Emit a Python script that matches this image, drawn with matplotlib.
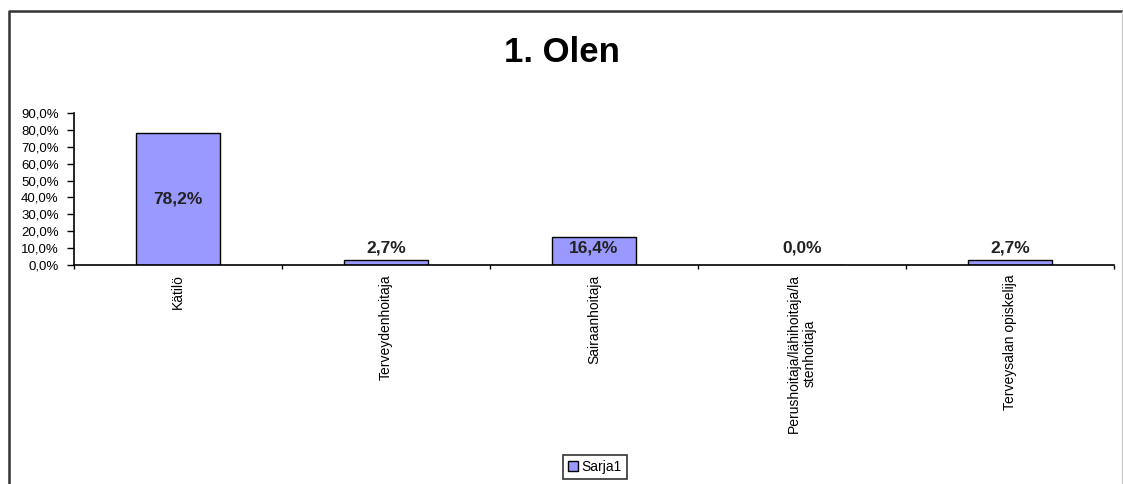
import matplotlib
matplotlib.use("Agg")
import matplotlib.pyplot as plt
from matplotlib.patches import Rectangle
from matplotlib.lines import Line2D

plt.rcParams['font.family'] = ['Liberation Sans', 'DejaVu Sans']

# Data
categories = ["Kätilö", "Terveydenhoitaja", "Sairaanhoitaja",
              "Perushoitaja/lähihoitaja/la\nstenhoitaja", "Terveysalan opiskelija"]
values = [0.782, 0.027, 0.164, 0.0, 0.027]
value_labels = ["78,2%", "2,7%", "16,4%", "0,0%", "2,7%"]
yticks = [0.0, 0.1, 0.2, 0.3, 0.4, 0.5, 0.6, 0.7, 0.8, 0.9]
ytick_labels = ["0,0%", "10,0%", "20,0%", "30,0%", "40,0%",
                "50,0%", "60,0%", "70,0%", "80,0%", "90,0%"]

W, H = 1123, 484
fig = plt.figure(figsize=(W / 100, H / 100), dpi=100)

# outer chart frame: dark left/top, light right edge
fig.lines.append(Line2D([9 / W, 9 / W, 1121 / W], [0, 1 - 11 / H, 1 - 11 / H],
                        transform=fig.transFigure, color="#333333", linewidth=1.8))
fig.lines.append(Line2D([1121.5 / W, 1121.5 / W], [0, 1 - 12 / H],
                        transform=fig.transFigure, color="#cccccc", linewidth=1))

ax = fig.add_axes([74 / W, 1 - 265 / H, 1040 / W, 152 / H])
x = list(range(len(categories)))
ax.bar(x, values, width=0.4, color="#9999FF", edgecolor="black", linewidth=1)

ax.set_xlim(-0.5, len(categories) - 0.5)
ax.set_ylim(0, 0.9)
ax.set_yticks(yticks)
ax.set_yticklabels(ytick_labels, fontsize=9.5)
ax.tick_params(axis="y", length=5, width=1, pad=6)

# category labels, rotated
ax.set_xticks([i - 0.5 for i in range(len(categories) + 1)])
ax.set_xticklabels([])
ax.tick_params(axis="x", length=3, width=1)
for i, lab in enumerate(categories):
    ax.text(i, -0.055, lab, rotation=90, ha="center", va="top",
            fontsize=10, multialignment="center")

for sp in ["top", "right"]:
    ax.spines[sp].set_visible(False)
ax.spines["left"].set_linewidth(1.2)
ax.spines["bottom"].set_linewidth(1.2)

# value labels (Excel-style: centred in bar, at least a bit above the axis)
for i, lab in enumerate(value_labels):
    ax.text(i, max(values[i] / 2, 0.1), lab, ha="center", va="center",
            fontsize=12.5, fontweight="bold", color="#222222")

fig.text(0.5, 1 - 52 / H, "1. Olen", ha="center", va="center",
         fontsize=25, fontweight="bold")

leg = fig.legend([Rectangle((0, 0), 1, 1, facecolor="#9999FF", edgecolor="black")],
                 ["Sarja1"], loc="center", bbox_to_anchor=(595 / W, 1 - 467 / H),
                 fontsize=10, frameon=True, fancybox=False, handlelength=0.7,
                 handleheight=0.7, handletextpad=0.3, borderpad=0.35)
leg.get_frame().set_edgecolor("black")
leg.get_frame().set_linewidth(1.2)

fig.savefig("out.png", dpi=100)
